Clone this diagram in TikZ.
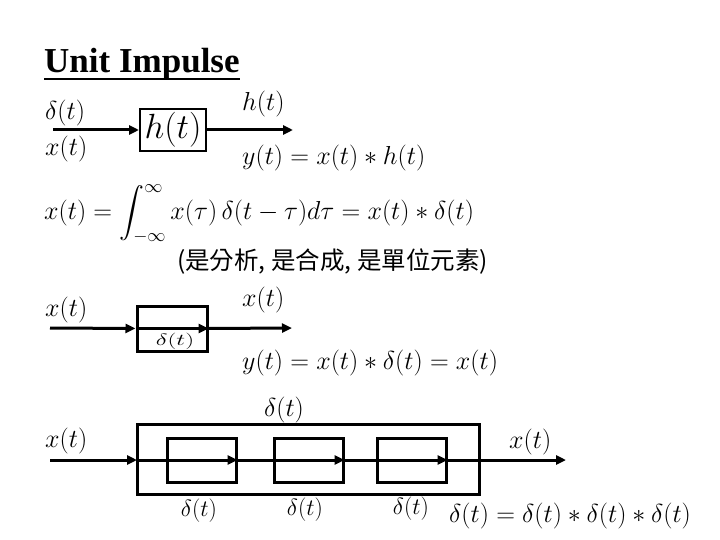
\RequirePackage{fix-cm}
\documentclass[tikz,border=0pt]{standalone}
\usepackage{amsmath}
\usepackage{fontspec}
\newfontfamily\titlefont{Liberation Serif}
\newfontfamily\cjk{Noto Sans CJK TC}
\usetikzlibrary{arrows.meta}
\tikzset{
  arr/.style={line width=3pt,-{Triangle[length=10pt,width=9pt]}},
  blk/.style={draw,line width=3pt,inner sep=0pt},
  lbl/.style={font=\fontsize{26}{30}\selectfont,inner sep=0pt},
  slbl/.style={font=\fontsize{23.5}{27}\selectfont,inner sep=0pt},
}
\begin{document}
\begin{tikzpicture}[x=1pt,y=-1pt]
\useasboundingbox (0,0) rectangle (720,540);
% title
\node[anchor=base west,inner sep=0pt,font=\titlefont\bfseries\fontsize{35}{40}\selectfont] (title) at (44,73) {Unit Impulse};
\draw[line width=2.5pt] ([yshift=-6pt]title.base west) -- ([yshift=-6pt]title.base east);

% first system
\coordinate (a0) at (53,130);
\coordinate (a1) at (293,130);
\node[blk,line width=2pt,minimum width=66pt,minimum height=42pt,font=\fontsize{35}{39}\selectfont] (hbox) at (173,130) {$h(t)$};
\draw[arr] (a0) -- (hbox);
\draw[arr] (hbox) -- (a1);
\node[lbl,anchor=west] (d1) at (45,113) {$\delta(t)$};
\node[lbl,anchor=west] (x1) at (45,149) {$x(t)$};
\node[lbl,anchor=west] (h1) at (242,104) {$h(t)$};
\node[lbl,anchor=west] (y1) at (242,158) {$y(t)=x(t)*h(t)$};

% integral
\node[lbl,anchor=west] (int) at (44,214) {$\displaystyle x(t)=\int_{-\infty}^{\infty} x(\tau)\,\delta(t-\tau)d\tau = x(t)*\delta(t)$};
\node[anchor=west,inner sep=0pt,font=\cjk\fontsize{24.5}{28}\selectfont] (cn) at (177,262) {(是分析, 是合成, 是單位元素)};

% second system
\coordinate (b0) at (50,328);
\coordinate (b1) at (292,328);
\node[blk,minimum width=70pt,minimum height=45pt] (dbox) at (172,328.5) {};
\draw[arr] (b0) -- (dbox.west);
\draw[arr] (dbox.west) -- (dbox.east);
\draw[arr] (dbox.east) -- (b1);
\node[slbl,font=\fontsize{25}{29}\selectfont] (din) at (175,341) {\scalebox{1}[0.66]{$\delta(t)$}};
\node[lbl,anchor=west] (x2) at (45,310) {$x(t)$};
\node[lbl,anchor=west] (x2o) at (242,300) {$x(t)$};
\node[lbl,anchor=west] (y2) at (242,363) {$y(t)=x(t)*\delta(t)=x(t)$};

% third system
\node[blk,minimum width=342pt,minimum height=70pt] (outer) at (308,459) {};
\node[blk,minimum width=69pt,minimum height=44pt] (c1) at (201.5,460) {};
\node[blk,minimum width=69pt,minimum height=44pt] (c2) at (308.5,460) {};
\node[blk,minimum width=69pt,minimum height=44pt] (c3) at (411.5,460) {};
\coordinate (c0) at (50,460);
\coordinate (cend) at (566,460);
\coordinate (oin) at (137,460);
\draw[arr] (c0) -- (oin);
\draw[arr] (oin) -- (c1.east);
\draw[arr] (c1.east) -- (c2.east);
\draw[arr] (c2.east) -- (c3.east);
\draw[arr] (c3.east) -- (cend);
\node[lbl] (dtop) at (284,410) {$\delta(t)$};
\node[lbl,anchor=west] (x3) at (45,441) {$x(t)$};
\node[lbl,anchor=west] (x3o) at (509,442) {$x(t)$};
\node[slbl] (l1) at (199,511) {$\delta(t)$};
\node[slbl] (l2) at (305,510) {$\delta(t)$};
\node[slbl] (l3) at (411,509) {$\delta(t)$};
\node[lbl,anchor=west] (eq3) at (449,516) {$\delta(t)=\delta(t)*\delta(t)*\delta(t)$};
\end{tikzpicture}
\end{document}
